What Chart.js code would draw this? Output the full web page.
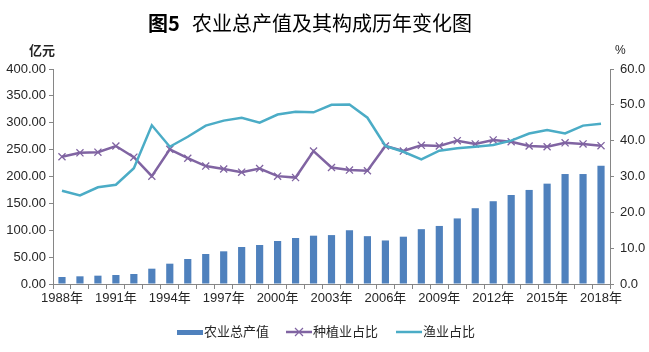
<!DOCTYPE html>
<html>
<head>
<meta charset="utf-8">
<script src="https://cdn.jsdelivr.net/npm/chart.js@4.4.1/dist/chart.umd.min.js"></script>
<style>
  html, body { margin: 0; padding: 0; background: #fff; }
  #wrap { width: 649px; height: 352px; position: relative; }
</style>
</head>
<body>
<div id="wrap"><canvas id="chart" width="649" height="352"></canvas></div>
<script>
// ========== Dados ==========
const years = ['1988年','1989年','1990年','1991年','1992年','1993年','1994年','1995年','1996年','1997年',
  '1998年','1999年','2000年','2001年','2002年','2003年','2004年','2005年','2006年','2007年',
  '2008年','2009年','2010年','2011年','2012年','2013年','2014年','2015年','2016年','2017年','2018年'];

// 农业总产值 (亿元)
const outputValue = [13.0, 14.3, 15.5, 16.7, 18.6, 28.5, 37.8, 46.5, 55.8, 60.8,
  68.8, 72.6, 80.0, 85.6, 89.9, 91.0, 100.0, 89.0, 81.0, 88.0,
  102.0, 108.0, 122.0, 141.0, 154.0, 165.6, 175.0, 186.7, 204.6, 204.6, 220.0];

// 种植业占比 (%)
const plantShare = [35.5, 36.6, 36.8, 38.5, 35.4, 30.1, 37.6, 35.1, 32.9, 32.1,
  31.2, 32.2, 30.1, 29.7, 37.1, 32.5, 31.8, 31.6, 38.5, 37.1,
  38.7, 38.5, 40.0, 39.1, 40.2, 39.7, 38.5, 38.3, 39.4, 39.1, 38.6];

// 渔业占比 (%)
const fishShare = [26.0, 24.7, 27.0, 27.7, 32.3, 44.3, 38.3, 41.1, 44.2, 45.6,
  46.4, 45.0, 47.3, 48.1, 47.9, 50.0, 50.1, 46.4, 38.5, 36.9,
  34.8, 37.2, 37.9, 38.3, 38.8, 40.0, 42.0, 43.0, 42.0, 44.2, 44.7];

const seriesNames = ['农业总产值', '种植业占比', '渔业占比'];
const colors = { bar: '#4F81BD', plant: '#8064A2', fish: '#4BACC6', axis: '#868686', text: '#262626' };
const FONT = '"Liberation Sans", "Noto Sans CJK SC", sans-serif';

// ========== Plugin: título, unidades e legenda ==========
const decorPlugin = {
  id: 'decor',
  afterDraw(chart) {
    const ctx = chart.ctx;
    const area = chart.chartArea;
    ctx.save();
    ctx.fillStyle = '#000';
    ctx.textBaseline = 'alphabetic';
    // título
    ctx.font = 'bold 20px "Noto Sans CJK SC", sans-serif';
    ctx.textAlign = 'left';
    ctx.fillText('图5', 148, 31);
    ctx.font = '20px "Noto Sans CJK SC", sans-serif';
    ctx.fillText('农业总产值及其构成历年变化图', 192, 31);

    // unidades
    ctx.font = 'bold 13px "Noto Sans CJK SC", sans-serif';
    ctx.fillStyle = colors.text;
    ctx.fillText('亿元', 29, 55);
    ctx.font = '12px ' + FONT;
    ctx.fillText('%', 615, 54);

    // legenda
    const ly = 332;
    ctx.font = '13px ' + FONT;
    ctx.textBaseline = 'middle';
    ctx.fillStyle = colors.bar;
    ctx.fillRect(177, ly - 2, 26, 5);
    ctx.fillStyle = colors.text;
    ctx.fillText(seriesNames[0], 204, ly);

    ctx.strokeStyle = colors.plant;
    ctx.lineWidth = 2.5;
    ctx.beginPath(); ctx.moveTo(286, ly); ctx.lineTo(312, ly); ctx.stroke();
    ctx.lineWidth = 1.2;
    ctx.beginPath();
    ctx.moveTo(295, ly - 4); ctx.lineTo(303, ly + 4);
    ctx.moveTo(295, ly + 4); ctx.lineTo(303, ly - 4);
    ctx.stroke();
    ctx.fillText(seriesNames[1], 313, ly);

    ctx.strokeStyle = colors.fish;
    ctx.lineWidth = 2.5;
    ctx.beginPath(); ctx.moveTo(396, ly); ctx.lineTo(422, ly); ctx.stroke();
    ctx.fillText(seriesNames[2], 423, ly);
    ctx.restore();
  }
};

// ========== Gráfico ==========
const ctxChart = document.getElementById('chart').getContext('2d');
const chart = new Chart(ctxChart, {
  type: 'bar',
  data: {
    labels: years,
    datasets: [
      {
        type: 'line', label: seriesNames[2], data: fishShare, yAxisID: 'y1',
        borderColor: colors.fish, backgroundColor: colors.fish, borderWidth: 2.5,
        pointRadius: 0, tension: 0, order: 0
      },
      {
        type: 'line', label: seriesNames[1], data: plantShare, yAxisID: 'y1',
        borderColor: colors.plant, backgroundColor: colors.plant, borderWidth: 2.5,
        pointStyle: 'crossRot', pointRadius: 5, pointBorderWidth: 1.3, tension: 0, order: 1
      },
      {
        type: 'bar', label: seriesNames[0], data: outputValue, yAxisID: 'y',
        backgroundColor: colors.bar, barPercentage: 0.4, categoryPercentage: 1, order: 2
      }
    ]
  },
  options: {
    responsive: false,
    animation: false,
    layout: { padding: { top: 69, left: 0, right: 0, bottom: 0 } },
    plugins: { legend: { display: false }, title: { display: false }, tooltip: { enabled: false } },
    scales: {
      x: {
        offset: true,
        grid: { offset: true, drawOnChartArea: false, drawTicks: true, tickLength: 5, color: colors.axis },
        border: { color: colors.axis },
        ticks: {
          autoSkip: false, maxRotation: 0, padding: 2, color: colors.text,
          font: { size: 13, family: FONT },
          callback: (v, i) => (i % 3 === 0 ? years[i] : '')
        },
        afterFit: s => { s.height = 68; }
      },
      y: {
        position: 'left', min: 0, max: 400,
        grid: { drawOnChartArea: false, drawTicks: true, tickLength: 4, color: colors.axis },
        border: { color: colors.axis },
        ticks: {
          stepSize: 50, padding: 3, color: colors.text, font: { size: 13, family: FONT },
          callback: v => v.toFixed(2)
        },
        afterFit: s => { s.width = 53; }
      },
      y1: {
        position: 'right', min: 0, max: 60,
        grid: { drawOnChartArea: false, drawTicks: true, tickLength: 4, color: colors.axis },
        border: { color: colors.axis },
        ticks: {
          stepSize: 10, padding: 6, color: colors.text, font: { size: 13, family: FONT },
          callback: v => v.toFixed(1)
        },
        afterFit: s => { s.width = 39; }
      }
    }
  },
  plugins: [decorPlugin]
});
</script>
</body>
</html>
